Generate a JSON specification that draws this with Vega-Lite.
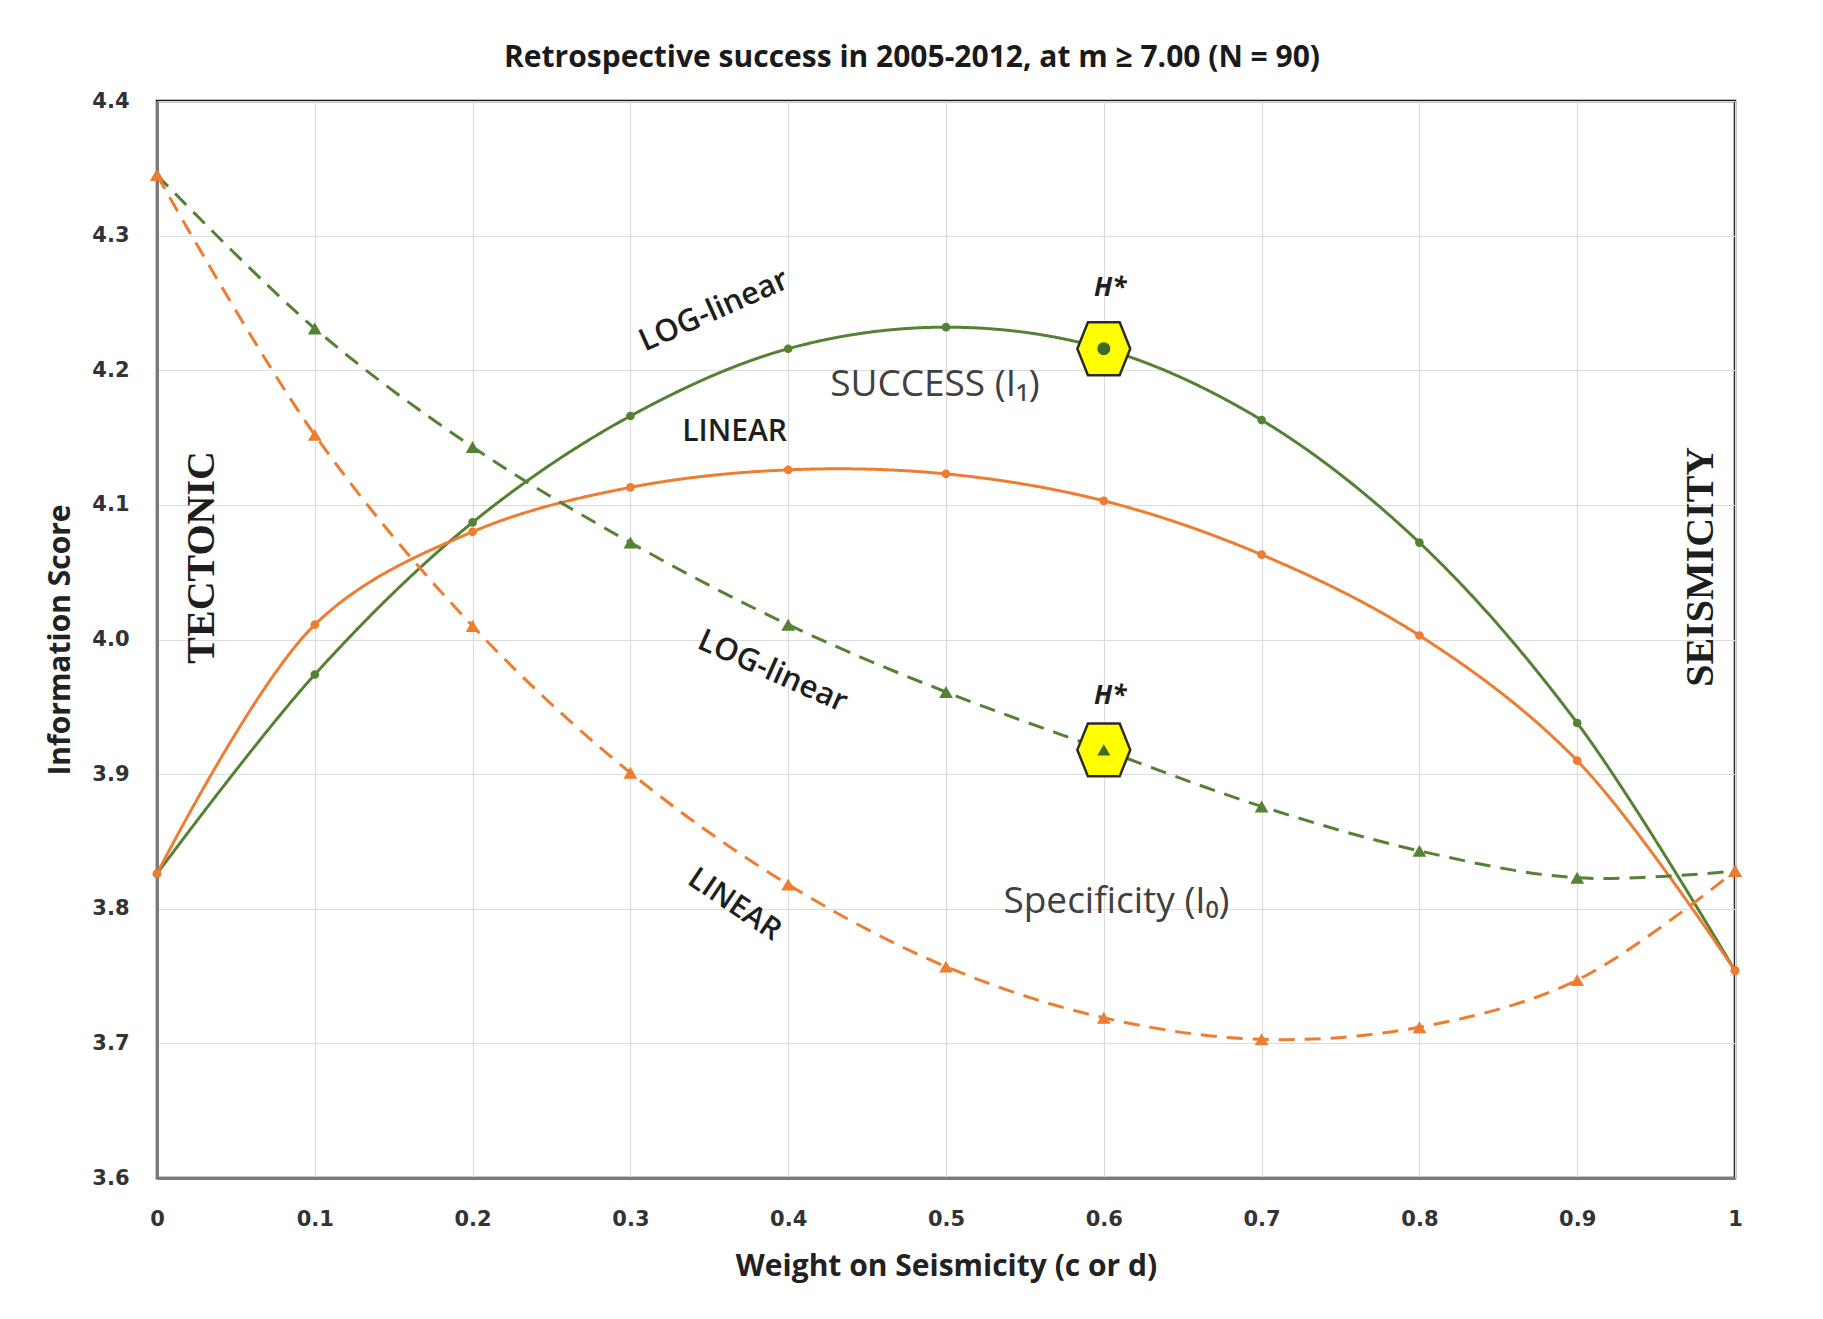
{
  "$schema": "https://vega.github.io/schema/vega-lite/v6.json",
  "autosize": "none",
  "width": 1578,
  "height": 1077,
  "padding": {"left": 157, "top": 101, "right": 88, "bottom": 141},
  "background": "white",
  "title": {
    "text": "Retrospective success in 2005-2012, at m ≥ 7.00 (N = 90)",
    "font": "Open Sans", "fontSize": 30, "fontWeight": "bold", "color": "#1a1a1a",
    "anchor": "middle", "dx": -34, "offset": 17
  },
  "config": {
    "view": {"stroke": "#111111", "strokeWidth": 2.5},
    "axis": {
      "labelFont": "DejaVu Sans", "labelFontWeight": "bold", "labelFontSize": 21, "labelColor": "#333333",
      "titleFont": "Open Sans", "titleFontSize": 30, "titleFontWeight": "bold", "titleColor": "#222222",
      "grid": true, "gridColor": "#dcdcdc", "gridWidth": 1.2, "labelFlush": false,
      "ticks": false, "domain": true, "domainColor": "#7a7a7a", "domainWidth": 3
    }
  },
  "datasets": {
    "curves": [
      {"w": 0.0, "score": 3.826, "model": "LOG-linear", "measure": "Success", "hstar": false},
      {"w": 0.1, "score": 3.974, "model": "LOG-linear", "measure": "Success", "hstar": false},
      {"w": 0.2, "score": 4.087, "model": "LOG-linear", "measure": "Success", "hstar": false},
      {"w": 0.3, "score": 4.166, "model": "LOG-linear", "measure": "Success", "hstar": false},
      {"w": 0.4, "score": 4.216, "model": "LOG-linear", "measure": "Success", "hstar": false},
      {"w": 0.5, "score": 4.232, "model": "LOG-linear", "measure": "Success", "hstar": false},
      {"w": 0.6, "score": 4.216, "model": "LOG-linear", "measure": "Success", "hstar": true},
      {"w": 0.7, "score": 4.163, "model": "LOG-linear", "measure": "Success", "hstar": false},
      {"w": 0.8, "score": 4.072, "model": "LOG-linear", "measure": "Success", "hstar": false},
      {"w": 0.9, "score": 3.938, "model": "LOG-linear", "measure": "Success", "hstar": false},
      {"w": 1.0, "score": 3.754, "model": "LOG-linear", "measure": "Success", "hstar": false},
      {"w": 0.0, "score": 3.826, "model": "LINEAR", "measure": "Success", "hstar": false},
      {"w": 0.1, "score": 4.011, "model": "LINEAR", "measure": "Success", "hstar": false},
      {"w": 0.2, "score": 4.080, "model": "LINEAR", "measure": "Success", "hstar": false},
      {"w": 0.3, "score": 4.113, "model": "LINEAR", "measure": "Success", "hstar": false},
      {"w": 0.4, "score": 4.126, "model": "LINEAR", "measure": "Success", "hstar": false},
      {"w": 0.5, "score": 4.123, "model": "LINEAR", "measure": "Success", "hstar": false},
      {"w": 0.6, "score": 4.103, "model": "LINEAR", "measure": "Success", "hstar": false},
      {"w": 0.7, "score": 4.063, "model": "LINEAR", "measure": "Success", "hstar": false},
      {"w": 0.8, "score": 4.003, "model": "LINEAR", "measure": "Success", "hstar": false},
      {"w": 0.9, "score": 3.910, "model": "LINEAR", "measure": "Success", "hstar": false},
      {"w": 1.0, "score": 3.754, "model": "LINEAR", "measure": "Success", "hstar": false},
      {"w": 0.0, "score": 4.345, "model": "LOG-linear", "measure": "Specificity", "hstar": false},
      {"w": 0.1, "score": 4.231, "model": "LOG-linear", "measure": "Specificity", "hstar": false},
      {"w": 0.2, "score": 4.143, "model": "LOG-linear", "measure": "Specificity", "hstar": false},
      {"w": 0.3, "score": 4.072, "model": "LOG-linear", "measure": "Specificity", "hstar": false},
      {"w": 0.4, "score": 4.011, "model": "LOG-linear", "measure": "Specificity", "hstar": false},
      {"w": 0.5, "score": 3.961, "model": "LOG-linear", "measure": "Specificity", "hstar": false},
      {"w": 0.6, "score": 3.918, "model": "LOG-linear", "measure": "Specificity", "hstar": true},
      {"w": 0.7, "score": 3.876, "model": "LOG-linear", "measure": "Specificity", "hstar": false},
      {"w": 0.8, "score": 3.843, "model": "LOG-linear", "measure": "Specificity", "hstar": false},
      {"w": 0.9, "score": 3.823, "model": "LOG-linear", "measure": "Specificity", "hstar": false},
      {"w": 1.0, "score": 3.828, "model": "LOG-linear", "measure": "Specificity", "hstar": false},
      {"w": 0.0, "score": 4.345, "model": "LINEAR", "measure": "Specificity", "hstar": false},
      {"w": 0.1, "score": 4.152, "model": "LINEAR", "measure": "Specificity", "hstar": false},
      {"w": 0.2, "score": 4.010, "model": "LINEAR", "measure": "Specificity", "hstar": false},
      {"w": 0.3, "score": 3.901, "model": "LINEAR", "measure": "Specificity", "hstar": false},
      {"w": 0.4, "score": 3.818, "model": "LINEAR", "measure": "Specificity", "hstar": false},
      {"w": 0.5, "score": 3.757, "model": "LINEAR", "measure": "Specificity", "hstar": false},
      {"w": 0.6, "score": 3.719, "model": "LINEAR", "measure": "Specificity", "hstar": false},
      {"w": 0.7, "score": 3.703, "model": "LINEAR", "measure": "Specificity", "hstar": false},
      {"w": 0.8, "score": 3.712, "model": "LINEAR", "measure": "Specificity", "hstar": false},
      {"w": 0.9, "score": 3.747, "model": "LINEAR", "measure": "Specificity", "hstar": false},
      {"w": 1.0, "score": 3.828, "model": "LINEAR", "measure": "Specificity", "hstar": false}
    ]
  },
  "encoding": {
    "x": {
      "field": "w", "type": "quantitative",
      "scale": {"domain": [0, 1], "nice": false, "zero": false},
      "axis": {"title": "Weight on Seismicity (c or d)", "values": [0, 0.1, 0.2, 0.3, 0.4, 0.5, 0.6, 0.7, 0.8, 0.9, 1], "format": "~g", "labelPadding": 30, "titlePadding": 22}
    },
    "y": {
      "field": "score", "type": "quantitative",
      "scale": {"domain": [3.6, 4.4], "nice": false, "zero": false},
      "axis": {"title": "Information Score", "values": [3.6, 3.7, 3.8, 3.9, 4.0, 4.1, 4.2, 4.3, 4.4], "format": ".1f", "labelPadding": 28, "titlePadding": 16}
    }
  },
  "layer": [
    {
      "data": {"name": "curves"},
      "mark": {"type": "line", "interpolate": "catmull-rom", "strokeWidth": 3},
      "encoding": {
        "color": {"field": "model", "type": "nominal", "scale": {"domain": ["LINEAR", "LOG-linear"], "range": ["#ed7d31", "#548235"]}, "legend": null},
        "strokeDash": {"field": "measure", "type": "nominal", "scale": {"domain": ["Success", "Specificity"], "range": [[1, 0], [16, 10]]}, "legend": null}
      }
    },
    {
      "data": {"name": "curves"},
      "transform": [{"filter": "datum.measure == 'Success'"}],
      "mark": {"type": "point", "filled": true, "opacity": 1, "shape": "circle", "size": 75},
      "encoding": {
        "color": {"field": "model", "type": "nominal", "legend": null}
      }
    },
    {
      "data": {"name": "curves"},
      "transform": [{"filter": "datum.measure == 'Specificity'"}],
      "mark": {"type": "point", "filled": true, "opacity": 1, "shape": "triangle-up", "size": 190},
      "encoding": {
        "color": {"field": "model", "type": "nominal", "legend": null}
      }
    },
    {
      "data": {"name": "curves"},
      "transform": [{"filter": "datum.hstar"}],
      "mark": {"type": "point", "filled": true, "opacity": 1, "fill": "#ffff00", "stroke": "#2b2b2b", "strokeWidth": 2.5, "size": 2800, "shape": "M-1,0L-0.6,-1L0.6,-1L1,0L0.6,1L-0.6,1Z"}
    },
    {
      "data": {"name": "curves"},
      "transform": [{"filter": "datum.hstar && datum.measure == 'Success'"}],
      "mark": {"type": "point", "filled": true, "opacity": 1, "color": "#3d6b2a", "shape": "circle", "size": 170}
    },
    {
      "data": {"name": "curves"},
      "transform": [{"filter": "datum.hstar && datum.measure == 'Specificity'"}],
      "mark": {"type": "point", "filled": true, "opacity": 1, "color": "#3d6b2a", "shape": "triangle-up", "size": 170}
    },
    {
      "data": {"values": [
        {"w": 0.493, "score": 4.189, "label": "SUCCESS (I₁)"},
        {"w": 0.608, "score": 3.805, "label": "Specificity (I₀)"}
      ]},
      "mark": {"type": "text", "font": "Open Sans", "fontSize": 37, "color": "#404040", "align": "center", "baseline": "middle"},
      "encoding": {"text": {"field": "label"}}
    },
    {
      "data": {"values": [{"w": 0.353, "score": 4.244, "label": "LOG-linear"}]},
      "mark": {"type": "text", "font": "Open Sans", "fontSize": 31, "fontWeight": 600, "color": "#1e1e1e", "align": "center", "baseline": "middle", "angle": -24},
      "encoding": {"text": {"field": "label"}}
    },
    {
      "data": {"values": [{"w": 0.366, "score": 4.154, "label": "LINEAR"}]},
      "mark": {"type": "text", "font": "Open Sans", "fontSize": 30, "fontWeight": 600, "color": "#1e1e1e", "align": "center", "baseline": "middle"},
      "encoding": {"text": {"field": "label"}}
    },
    {
      "data": {"values": [{"w": 0.390, "score": 3.976, "label": "LOG-linear"}]},
      "mark": {"type": "text", "font": "Open Sans", "fontSize": 31, "fontWeight": 600, "color": "#1e1e1e", "align": "center", "baseline": "middle", "angle": 24},
      "encoding": {"text": {"field": "label"}}
    },
    {
      "data": {"values": [{"w": 0.366, "score": 3.803, "label": "LINEAR"}]},
      "mark": {"type": "text", "font": "Open Sans", "fontSize": 30, "fontWeight": 600, "color": "#1e1e1e", "align": "center", "baseline": "middle", "angle": 34},
      "encoding": {"text": {"field": "label"}}
    },
    {
      "data": {"values": [
        {"w": 0.604, "score": 4.261, "label": "H*"},
        {"w": 0.604, "score": 3.958, "label": "H*"}
      ]},
      "mark": {"type": "text", "font": "Open Sans", "fontSize": 26, "fontWeight": "bold", "fontStyle": "italic", "color": "#1e1e1e", "align": "center", "baseline": "middle"},
      "encoding": {"text": {"field": "label"}}
    },
    {
      "data": {"values": [
        {"w": 0.0288, "score": 4.061, "label": "TECTONIC"},
        {"w": 0.9786, "score": 4.054, "label": "SEISMICITY"}
      ]},
      "mark": {"type": "text", "font": "Liberation Serif", "fontSize": 40, "fontWeight": "bold", "color": "#1e1e1e", "align": "center", "baseline": "middle", "angle": -90},
      "encoding": {"text": {"field": "label"}}
    }
  ]
}
